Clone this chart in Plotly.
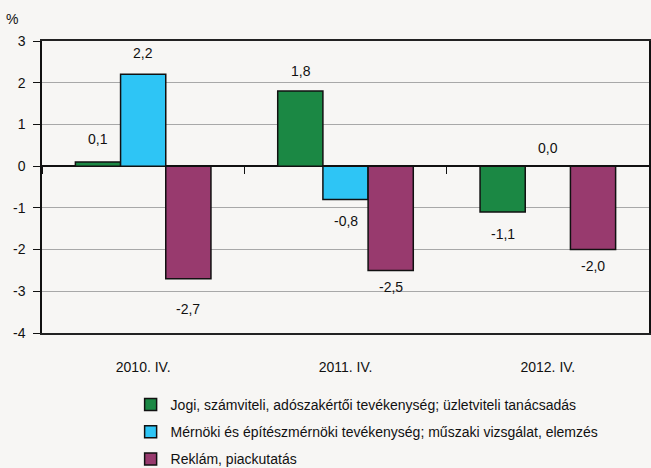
import plotly.graph_objects as go

categories = ["2010. IV.", "2011. IV.", "2012. IV."]
series_names = [
    "Jogi, számviteli, adószakértői tevékenység; üzletviteli tanácsadás",
    "Mérnöki és építészmérnöki tevékenység; műszaki vizsgálat, elemzés",
    "Reklám, piackutatás",
]
jogi = [0.1, 1.8, -1.1]
mernoki = [2.2, -0.8, 0.0]
reklam = [-2.7, -2.5, -2.0]
series_values = [jogi, mernoki, reklam]
colors = ["#1b8844", "#2ec5f5", "#983a6e"]
y_ticks = [3, 2, 1, 0, -1, -2, -3, -4]
y_tick_labels = [str(t) for t in y_ticks]

# label offsets in pixels from the bar end (style only)
label_shifts = [[23, 20, -22], [21, -21, 18], [-30, -17, -16]]

FONT = "Liberation Sans, Arial, sans-serif"
BG = "#f7f6f4"

fig = go.Figure()
for i, (name, vals) in enumerate(zip(series_names, series_values)):
    fig.add_trace(go.Bar(
        x=categories, y=vals, name=name,
        marker=dict(color=colors[i], line=dict(color="#111111", width=1.5)),
        legendgroup=f"g{i}", offsetgroup=str(i),
    ))

bar_w = 45  # px approx per bar for label x-shift
for i, vals in enumerate(series_values):
    for j, (c, v) in enumerate(zip(categories, vals)):
        txt = f"{v:.1f}".replace(".", ",")
        fig.add_annotation(
            x=c, y=v, text=txt, showarrow=False,
            xshift=(i - 1) * bar_w,
            yshift=label_shifts[i][j],
            font=dict(family=FONT, size=14, color="#111111"),
        )

fig.add_annotation(xref="paper", yref="paper", x=-0.05, y=1.042, text="%",
                   showarrow=False, xanchor="center", yanchor="bottom",
                   font=dict(family=FONT, size=14, color="#111111"))

fig.update_layout(
    width=651, height=468,
    margin=dict(l=42, r=2, t=41, b=135, autoexpand=False),
    paper_bgcolor=BG, plot_bgcolor=BG,
    barmode="group", bargap=0.33, bargroupgap=0,
    showlegend=True,
    legend=dict(x=0.146, y=1 - 389 / 468, xanchor="left", yanchor="top",
                yref="container",
                font=dict(family=FONT, size=14, color="#111111"),
                bgcolor="rgba(0,0,0,0)", tracegroupgap=6, traceorder="grouped",
                itemwidth=30),
    font=dict(family=FONT, size=14, color="#111111"),
    xaxis=dict(showline=True, mirror=True, linecolor="#222222", linewidth=1.5,
               ticks="", showgrid=False, tickfont=dict(size=14),
               ticklabelstandoff=20, automargin=False),
    xaxis2=dict(overlaying="x", anchor="free", position=4/7, matches="x",
                showticklabels=False, ticks="outside", ticklen=7, tickwidth=1,
                tickcolor="#111111", tickson="boundaries", showgrid=False,
                showline=False, side="bottom"),
    yaxis=dict(range=[-4, 3], tickvals=y_ticks, ticktext=y_tick_labels,
               showgrid=True, gridcolor="#a8a8a8",
               gridwidth=1, zeroline=True, zerolinecolor="#111111", zerolinewidth=1.5,
               showline=True, mirror=True, linecolor="#111111", linewidth=1.5,
               ticks="outside", ticklen=7, tickcolor="#111111",
               ticklabelstandoff=5, tickfont=dict(size=14), automargin=False),
)
fig.add_trace(go.Scatter(x=categories, y=[None]*3, xaxis="x2", showlegend=False,
                         hoverinfo="skip"))

fig.write_html("out.html", config={"displayModeBar": False},
               post_script="document.body.style.margin='0px';")
